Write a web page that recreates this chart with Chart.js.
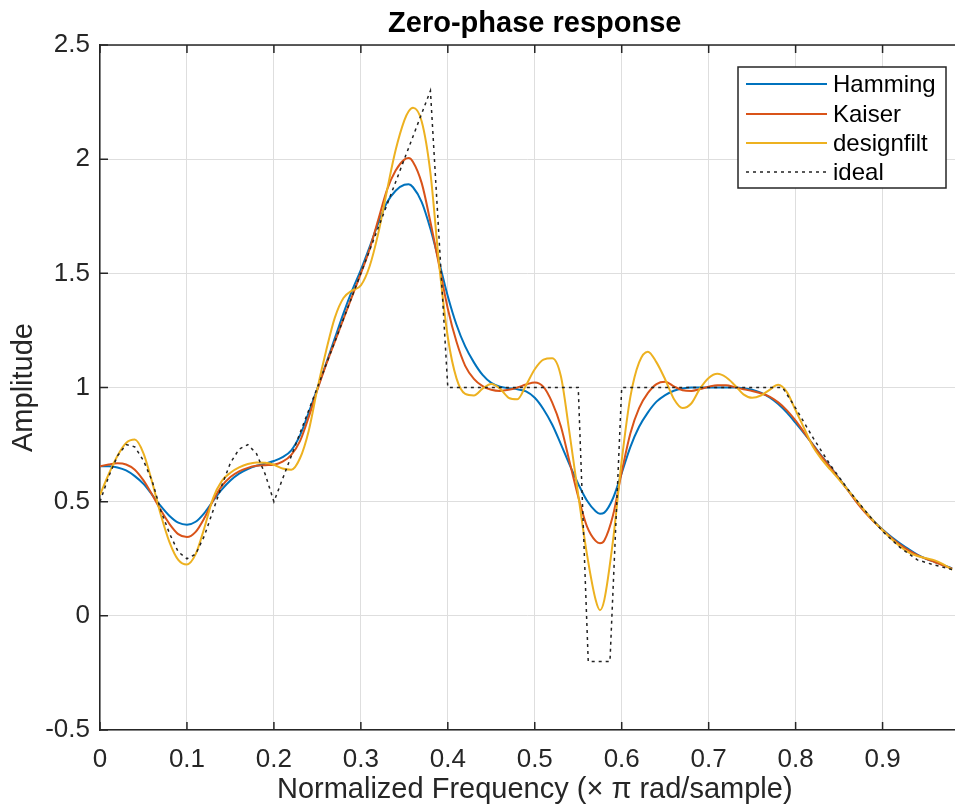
<!DOCTYPE html>
<html><head><meta charset="utf-8">
<script src="https://cdn.jsdelivr.net/npm/chart.js@4/dist/chart.umd.min.js"></script>
<style>html,body{margin:0;padding:0;background:#fff;overflow:hidden}</style>
</head><body>
<canvas id="c" width="955" height="807"></canvas>
<script>
// ---- data ----
const freq = [0,0.01,0.02,0.03,0.04,0.05,0.06,0.07,0.08,0.09,
  0.10,0.11,0.12,0.13,0.14,0.15,0.16,0.17,0.18,0.19,
  0.20,0.21,0.22,0.23,0.24,0.25,0.26,0.27,0.28,0.29,
  0.30,0.31,0.32,0.33,0.34,0.35,0.355,0.36,0.37,0.38,0.39,
  0.40,0.41,0.42,0.43,0.44,0.45,0.46,0.47,0.48,0.49,
  0.50,0.51,0.52,0.53,0.54,0.55,0.56,0.57,0.575,0.58,0.59,
  0.60,0.61,0.62,0.63,0.64,0.65,0.66,0.67,0.68,0.69,
  0.70,0.71,0.72,0.73,0.74,0.75,0.76,0.77,0.78,0.79,
  0.80,0.81,0.82,0.83,0.84,0.85,0.86,0.87,0.88,0.89,
  0.90,0.91,0.92,0.93,0.94,0.95,0.96,0.97,0.98];
const hamming = [0.655,0.655,0.650,0.637,0.612,0.578,0.530,0.480,0.437,0.408,
  0.399,0.412,0.450,0.503,0.553,0.593,0.623,0.643,0.657,0.667,
  0.678,0.695,0.725,0.790,0.890,0.995,1.105,1.215,1.325,1.425,
  1.515,1.615,1.720,1.810,1.862,1.888,1.890,1.877,1.812,1.695,1.550,
  1.400,1.275,1.180,1.110,1.055,1.020,1.003,0.997,0.992,0.983,
  0.955,0.905,0.838,0.752,0.662,0.578,0.505,0.458,0.447,0.452,0.515,
  0.625,0.740,0.828,0.890,0.938,0.967,0.986,0.996,1.000,1.000,
  1.000,1.000,1.000,1.000,0.997,0.990,0.977,0.957,0.928,0.890,
  0.845,0.798,0.750,0.700,0.652,0.602,0.552,0.502,0.456,0.415,
  0.378,0.346,0.318,0.292,0.268,0.250,0.236,0.222,0.208];
const kaiser = [0.655,0.663,0.668,0.663,0.640,0.593,0.530,0.462,0.402,0.358,
  0.345,0.368,0.428,0.505,0.568,0.608,0.633,0.648,0.657,0.660,
  0.662,0.675,0.705,0.765,0.870,0.990,1.100,1.200,1.300,1.400,
  1.500,1.605,1.735,1.865,1.950,1.998,2.005,1.988,1.895,1.725,1.535,
  1.345,1.200,1.095,1.038,1.006,0.990,0.985,0.990,1.000,1.013,
  1.022,1.003,0.935,0.830,0.675,0.522,0.392,0.328,0.318,0.330,0.440,
  0.630,0.800,0.910,0.975,1.015,1.025,1.005,0.988,0.985,0.993,
  1.003,1.010,1.010,1.002,0.992,0.985,0.975,0.960,0.935,0.900,
  0.855,0.802,0.748,0.697,0.650,0.600,0.550,0.498,0.452,0.412,
  0.376,0.342,0.312,0.287,0.266,0.250,0.236,0.221,0.206];
const designfilt = [0.530,0.620,0.700,0.757,0.772,0.712,0.585,0.442,0.322,0.245,
  0.225,0.270,0.385,0.515,0.590,0.627,0.650,0.665,0.672,0.670,
  0.662,0.645,0.640,0.690,0.810,0.995,1.160,1.305,1.392,1.425,
  1.447,1.530,1.675,1.862,2.040,2.170,2.210,2.225,2.165,1.940,1.540,
  1.220,1.040,0.972,0.965,0.995,1.015,0.995,0.955,0.948,1.010,
  1.080,1.122,1.128,1.050,0.800,0.530,0.270,0.070,0.025,0.070,0.330,
  0.680,0.960,1.110,1.157,1.110,1.035,0.950,0.910,0.930,0.995,
  1.042,1.060,1.045,1.010,0.970,0.955,0.965,0.990,1.012,0.980,
  0.900,0.820,0.740,0.685,0.640,0.597,0.552,0.505,0.458,0.414,
  0.375,0.338,0.305,0.278,0.262,0.252,0.243,0.225,0.202];
const idealFreq = [0,0.01,0.02,0.03,0.04,0.05,0.06,0.07,0.08,0.09,
  0.10,0.11,0.12,0.13,0.14,0.15,0.16,0.17,0.18,0.19,0.20,
  0.38,0.40,0.55,0.5615,0.5865,0.60,0.785,0.80,0.82,0.84,0.86,0.88,0.90,0.92,0.94,0.96,0.983];
const idealAmp = [0.50,0.61,0.70,0.75,0.74,0.68,0.59,0.46,0.36,0.28,
  0.25,0.27,0.35,0.46,0.57,0.67,0.73,0.75,0.71,0.62,0.50,
  2.30,1.00,1.00,-0.20,-0.20,1.00,1.00,0.91,0.78,0.66,0.555,0.46,0.37,0.30,0.245,0.222,0.20];

const seriesNames = ['Hamming','Kaiser','designfilt','ideal'];
const xTickValues = [0,0.1,0.2,0.3,0.4,0.5,0.6,0.7,0.8,0.9];
const xTickLabels = ['0','0.1','0.2','0.3','0.4','0.5','0.6','0.7','0.8','0.9'];
const yTickValues = [-0.5,0,0.5,1,1.5,2,2.5];
const yTickLabels = ['-0.5','0','0.5','1','1.5','2','2.5'];
const titleText = 'Zero-phase response';
const xLabelText = 'Normalized Frequency (\u00d7 \u03c0 rad/sample)';
const yLabelText = 'Amplitude';
const xMin = 0, xMax = 0.9833, yMin = -0.5, yMax = 2.5;

// ---- styling ----
const FONT = '"Liberation Sans", Arial, Helvetica, sans-serif';
const AX = '#262626';
const GRID = '#dedede';
const colors = ['#0072BD', '#D95319', '#EDB120', '#222222'];

const pts = (xs, ys) => xs.map((x, i) => ({x: x, y: ys[i]}));
const solid = (name, ys, col, order) => ({
  label: name, data: pts(freq, ys), borderColor: col, backgroundColor: col,
  borderWidth: 2, pointRadius: 0, fill: false, cubicInterpolationMode: 'monotone', order: order
});

const decor = {
  id: 'decor',
  afterDraw(chart) {
    const ctx = chart.ctx, ca = chart.chartArea, xs = chart.scales.x, ys = chart.scales.y;
    ctx.save();
    ctx.strokeStyle = AX; ctx.lineWidth = 1.5;
    ctx.beginPath(); ctx.moveTo(ca.left, ca.top); ctx.lineTo(ca.right, ca.top); ctx.stroke();
    ctx.beginPath();
    xTickValues.forEach(v => {
      const p = xs.getPixelForValue(v);
      ctx.moveTo(p, ca.bottom); ctx.lineTo(p, ca.bottom - 8);
      ctx.moveTo(p, ca.top); ctx.lineTo(p, ca.top + 8);
    });
    yTickValues.forEach(v => {
      const p = ys.getPixelForValue(v);
      ctx.moveTo(ca.left, p); ctx.lineTo(ca.left + 8, p);
    });
    ctx.stroke();
    const cx = xs.getPixelForValue(0.5);
    ctx.fillStyle = '#000';
    ctx.textAlign = 'center'; ctx.textBaseline = 'alphabetic';
    ctx.font = 'bold 29px ' + FONT;
    ctx.fillText(titleText, cx, 32);
    ctx.fillStyle = AX;
    ctx.font = '29px ' + FONT;
    ctx.fillText(xLabelText, cx, 798);
    ctx.save();
    ctx.translate(24, (ca.top + ca.bottom) / 2);
    ctx.rotate(-Math.PI / 2);
    ctx.textBaseline = 'middle';
    ctx.fillText(yLabelText, 0, 0);
    ctx.restore();
    const L = 738, T = 67, R = 946, B = 188;
    ctx.fillStyle = '#fff'; ctx.fillRect(L, T, R - L, B - T);
    ctx.strokeStyle = AX; ctx.lineWidth = 1.5; ctx.strokeRect(L, T, R - L, B - T);
    const rows = [84, 114, 143, 172];
    ctx.font = '24px ' + FONT; ctx.textAlign = 'left'; ctx.textBaseline = 'middle';
    chart.data.datasets.forEach((ds, i) => {
      ctx.strokeStyle = ds.borderColor; ctx.lineWidth = ds.borderWidth;
      ctx.setLineDash(ds.borderDash || []);
      ctx.beginPath(); ctx.moveTo(746, rows[i]); ctx.lineTo(827, rows[i]); ctx.stroke();
      ctx.setLineDash([]);
      ctx.fillStyle = '#000';
      ctx.fillText(ds.label, 833, rows[i] + 1);
    });
    ctx.restore();
  }
};

new Chart(document.getElementById('c'), {
  type: 'line',
  data: {
    datasets: [
      solid(seriesNames[0], hamming, colors[0], 4),
      solid(seriesNames[1], kaiser, colors[1], 3),
      solid(seriesNames[2], designfilt, colors[2], 2),
      {label: seriesNames[3], data: pts(idealFreq, idealAmp), borderColor: colors[3], backgroundColor: colors[3],
       borderWidth: 1.5, borderDash: [3, 4], pointRadius: 0, fill: false, tension: 0, order: 1}
    ]
  },
  options: {
    responsive: false, animation: false, devicePixelRatio: 1,
    layout: {padding: {left: 0, right: 0, top: 45, bottom: 0}},
    plugins: {legend: {display: false}, title: {display: false}, tooltip: {enabled: false}},
    scales: {
      x: {
        type: 'linear', min: xMin, max: xMax,
        afterBuildTicks: s => { s.ticks = xTickValues.map(v => ({value: v})); },
        afterFit: s => { s.height = 77; },
        grid: {color: GRID, lineWidth: 1, drawTicks: false},
        border: {display: true, color: AX, width: 1.5},
        ticks: {padding: 14, color: AX, font: {family: FONT, size: 26},
                maxRotation: 0, autoSkip: false,
                callback: v => xTickLabels[xTickValues.indexOf(v)]}
      },
      y: {
        type: 'linear', min: yMin, max: yMax,
        afterBuildTicks: s => { s.ticks = yTickValues.map(v => ({value: v})); },
        afterFit: s => { s.width = 100; },
        grid: {color: GRID, lineWidth: 1, drawTicks: false},
        border: {display: true, color: AX, width: 1.5},
        ticks: {padding: 10, color: AX, font: {family: FONT, size: 26},
                callback: v => yTickLabels[yTickValues.indexOf(v)]}
      }
    }
  },
  plugins: [decor]
});
</script>
</body></html>
